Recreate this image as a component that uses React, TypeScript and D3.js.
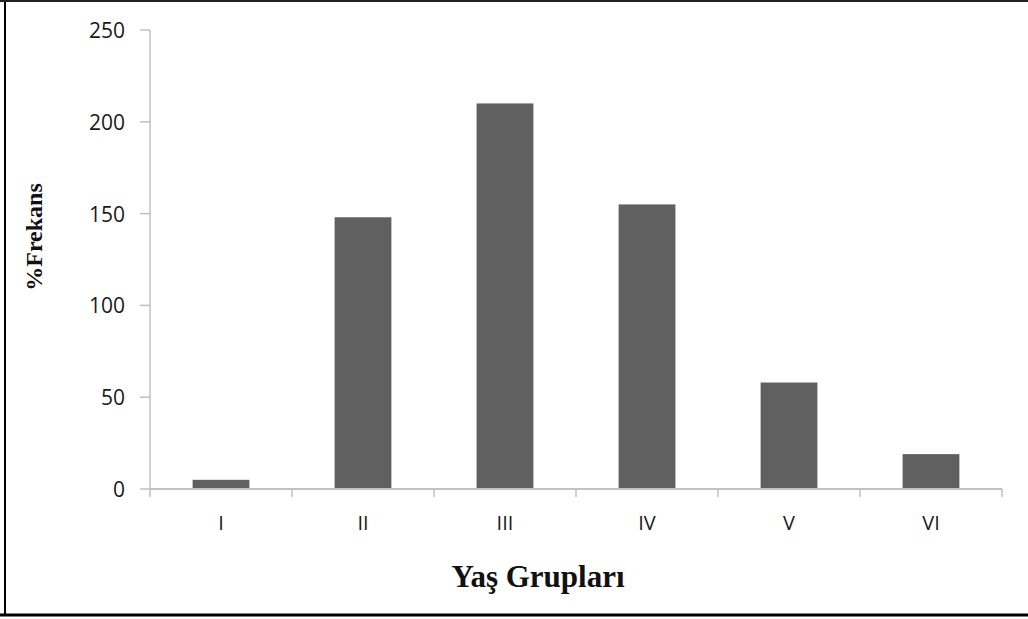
import React from "react";
import * as d3 from "d3";

const categories = ["I", "II", "III", "IV", "V", "VI"];
const values = [5, 148, 210, 155, 58, 19];
const yTicks = [0, 50, 100, 150, 200, 250];
const xTitle = "Yaş Grupları";
const yTitle = "%Frekans";

const W = 1028;
const H = 619;

export default function App() {
  const x = d3.scaleBand<string>().domain(categories).range([150, 1002]).paddingInner(0.6).paddingOuter(0.3);
  const y = d3.scaleLinear().domain([0, 250]).range([489, 30]);
  const step = x.step();
  const axisColor = "#c0c0c0";
  const tickBounds = d3.range(categories.length + 1).map((i) => 150 + i * step);

  return (
    <div style={{ position: "absolute", left: 0, top: 0 }}>
      <svg width={W} height={H} style={{ display: "block", background: "#fff" }}>
        {/* frame */}
        <line x1={5} y1={0} x2={5} y2={616} stroke="#000" strokeWidth={2} />
        <line x1={0} y1={1} x2={W} y2={1} stroke="#222" strokeWidth={2} />
        <line x1={0} y1={615} x2={W} y2={615} stroke="#000" strokeWidth={3} />

        {/* bars */}
        {categories.map((c, i) => (
          <rect
            key={c}
            x={x(c)}
            y={y(values[i])}
            width={x.bandwidth()}
            height={y(0) - y(values[i])}
            fill="#606060"
          />
        ))}

        {/* y axis */}
        <line x1={150} y1={y(250)} x2={150} y2={y(0)} stroke={axisColor} strokeWidth={1.5} />
        {yTicks.map((t) => (
          <g key={t}>
            <line x1={140} x2={150} y1={y(t)} y2={y(t)} stroke={axisColor} strokeWidth={1.5} />
            <text
              x={125}
              y={y(t)}
              textAnchor="end"
              dominantBaseline="central"
              fontFamily="Open Sans, sans-serif"
              fontSize={21}
              fontWeight={500}
              fill="#1a1a1a"
            >
              {t}
            </text>
          </g>
        ))}

        {/* x axis */}
        <line x1={150} y1={y(0)} x2={1002} y2={y(0)} stroke={axisColor} strokeWidth={2} />
        {tickBounds.map((b, i) => (
          <line key={i} x1={b} x2={b} y1={y(0)} y2={497} stroke={axisColor} strokeWidth={1.5} />
        ))}
        {categories.map((c) => (
          <text
            key={c}
            x={(x(c) ?? 0) + x.bandwidth() / 2}
            y={522}
            textAnchor="middle"
            dominantBaseline="central"
            fontFamily="Open Sans, sans-serif"
            fontSize={20}
            fontWeight={500}
            fill="#1a1a1a"
          >
            {c}
          </text>
        ))}

        {/* titles */}
        <text
          x={538}
          y={587}
          textAnchor="middle"
          fontFamily="Liberation Serif, Times New Roman, serif"
          fontWeight="bold"
          fontSize={31}
          fill="#111"
        >
          {xTitle}
        </text>
        <text
          transform={`translate(42, 237) rotate(-90)`}
          textAnchor="middle"
          fontFamily="Liberation Serif, Times New Roman, serif"
          fontWeight="bold"
          fontSize={24}
          fill="#111"
        >
          {yTitle}
        </text>
      </svg>
    </div>
  );
}
